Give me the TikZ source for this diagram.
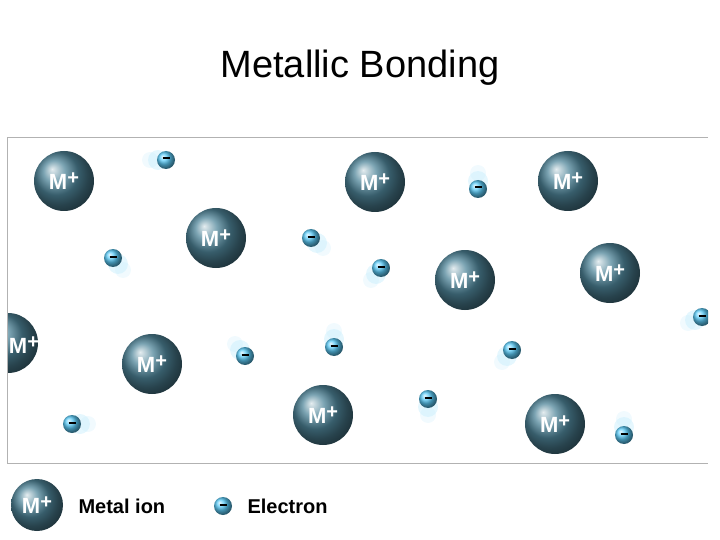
\documentclass[tikz,border=0pt]{standalone}
\usepackage{fontspec}
\setmainfont{Liberation Sans}
\definecolor{ionc}{HTML}{4F8599}
\definecolor{elc}{HTML}{5CCBF7}
\begin{document}
\begin{tikzpicture}[x=1pt,y=-1pt,
  ion/.style={circle,minimum size=60pt,inner sep=0pt,shading=ball,ball color=ionc,text=white,font=\bfseries\fontsize{22}{22}\selectfont},
  elec/.style={circle,minimum size=18pt,inner sep=0pt,shading=ball,ball color=elc,font=\bfseries\fontsize{16}{16}\selectfont},
  blur/.style={fill=elc!35,opacity=0.45}]
\useasboundingbox (0,0) rectangle (720,540);
\node (title) at (360,68) {\fontsize{38}{38}\selectfont Metallic Bonding};
\newcommand\mplus{M\raisebox{5pt}{\fontsize{20}{20}\selectfont\bfseries +}}
\begin{scope}
\clip (7,138) rectangle (708,463);
\newcommand\mion[3]{\node[ion] (#1) at (#2,#3) {\mplus};}
\newcommand\melec[5]{\fill[blur] (#2+#4,#3+#5) circle (10); \fill[blur,opacity=.25] (#2+2*#4,#3+2*#5) circle (8);\node[elec] (#1) at (#2,#3) {\rule[3pt]{7pt}{2pt}};}
\melec{e1}{166}{160}{-8}{0}
\melec{e2}{113}{258}{5}{6}
\melec{e3}{311}{238}{6}{5}
\melec{e4}{381}{268}{-5}{6}
\melec{e5}{478}{189}{0}{-8}
\melec{e6}{702}{317}{-7}{3}
\melec{e7}{245}{356}{-5}{-6}
\melec{e8}{334}{347}{0}{-8}
\melec{e9}{512}{350}{-5}{6}
\melec{e10}{428}{399}{0}{8}
\melec{e11}{72}{424}{8}{0}
\melec{e12}{624}{435}{0}{-8}
\mion{i1}{64}{181}
\mion{i2}{216}{238}
\mion{i3}{375}{182}
\mion{i4}{568}{181}
\mion{i5}{465}{280}
\mion{i6}{610}{273}
\node[ion] (i7) at (8,343) {};
\mion{i8}{152}{364}
\mion{i9}{323}{415}
\mion{i10}{555}{424}
\end{scope}
\node[text=white,font=\bfseries\fontsize{22}{22}\selectfont,inner sep=0pt] (i7t) at (24,345) {\mplus};
\draw[gray!60,line width=1pt] (708,138) -- (7,138) -- (7,463) -- (708,463);
\node[ion,minimum size=52pt] (li) at (37,505) {\mplus};
\node[anchor=west,font=\bfseries\fontsize{20}{20}\selectfont] (lt) at (75,506) {Metal ion};
\node[elec] (le) at (223,506) {\rule[3pt]{7pt}{2pt}};
\node[anchor=west,font=\bfseries\fontsize{20}{20}\selectfont] (lt2) at (244,506) {Electron};
\end{tikzpicture}
\end{document}
